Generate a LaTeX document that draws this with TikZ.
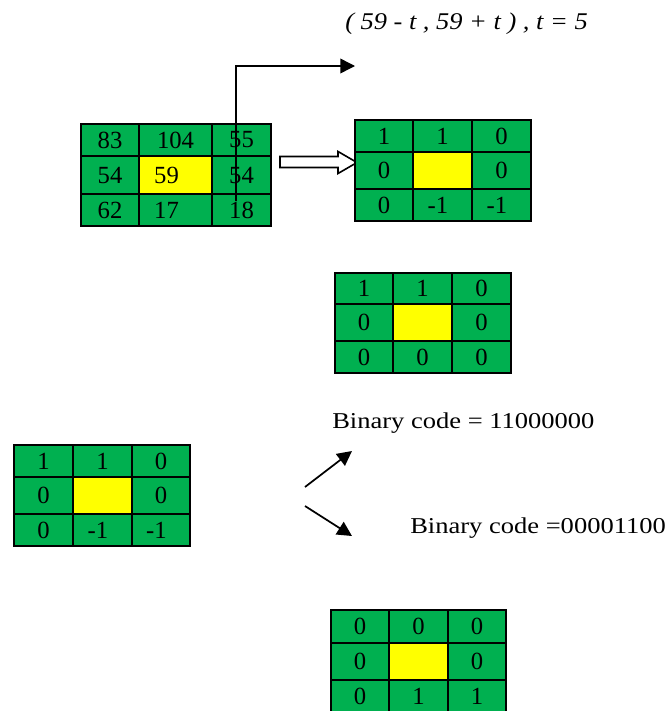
\documentclass[tikz,border=0pt]{standalone}
\usepackage{fontspec}
\setmainfont{Liberation Serif}
\usetikzlibrary{arrows.meta}
\definecolor{cgreen}{RGB}{0,176,80}
\definecolor{cyellow}{RGB}{255,255,0}
\newcommand\gcell[7][cgreen]{%
  \node[cellbox, fill=#1, minimum width={(#5-#3)*0.75pt}, minimum height={(#6-#4)*0.75pt}]
    (#2) at ({(#3+#5)/2},{(#4+#6)/2}) {#7};}
\tikzset{
  cellbox/.style={draw=black, line width=1.4pt, inner sep=0pt, anchor=center,
    font=\fontsize{18.5}{20}\selectfont},
  conn/.style={line width=1.3pt, -{Triangle[length=11pt,width=11pt]}},
  labeltext/.style={anchor=base west, inner sep=0pt},
}
\begin{document}
\begin{tikzpicture}[x=0.75pt,y=-0.75pt]
\useasboundingbox (0,0) rectangle (665,711);
\fill[white] (0,0) rectangle (665,711);

% title
\node[labeltext] (title) at (345,29)
  {\fontsize{18}{20}\selectfont\itshape\scalebox{1.1}[1]{( 59 - t , 59 + t ) , t = 5}};

% grid 1
\gcell{a11}{81}{124}{139}{156}{83}
\gcell{a12}{139}{124}{212}{156}{104}
\gcell{a13}{212}{124}{271}{156}{55}
\gcell{a21}{81}{156}{139}{194}{54}
\gcell[cyellow]{a22}{139}{156}{212}{194}{59\kern13.5pt}
\gcell{a23}{212}{156}{271}{194}{54}
\gcell{a31}{81}{194}{139}{226}{62}
\gcell{a32}{139}{194}{212}{226}{17\kern13.5pt}
\gcell{a33}{212}{194}{271}{226}{18}

% threshold arrow
\coordinate (vstart) at (236,201);
\coordinate (corner) at (236,66);
\coordinate (tend) at (355,66);
\draw[conn, line width=1.1pt] (vstart) -- (corner) -- (tend);

% hollow arrow
\coordinate (h1) at (280,156.5);
\draw[line width=1.2pt, fill=white, line join=miter]
  (h1) -- (338,156.5) -- (338,151.5) -- (357,162.5) -- (338,173.5) -- (338,167.5) -- (280,167.5) -- cycle;

% grid 2
\gcell{b11}{355}{120}{413}{152}{1}
\gcell{b12}{413}{120}{472}{152}{1}
\gcell{b13}{472}{120}{531}{152}{0}
\gcell{b21}{355}{152}{413}{189}{0}
\gcell[cyellow]{b22}{413}{152}{472}{189}{}
\gcell{b23}{472}{152}{531}{189}{0}
\gcell{b31}{355}{189}{413}{221}{0}
\gcell{b32}{413}{189}{472}{221}{-1\kern7pt}
\gcell{b33}{472}{189}{531}{221}{-1\kern7pt}

% grid 3
\gcell{c11}{335}{273}{393}{304}{1}
\gcell{c12}{393}{273}{452}{304}{1}
\gcell{c13}{452}{273}{511}{304}{0}
\gcell{c21}{335}{304}{393}{341}{0}
\gcell[cyellow]{c22}{393}{304}{452}{341}{}
\gcell{c23}{452}{304}{511}{341}{0}
\gcell{c31}{335}{341}{393}{373}{0}
\gcell{c32}{393}{341}{452}{373}{0}
\gcell{c33}{452}{341}{511}{373}{0}

% grid 4
\gcell{d11}{14}{445}{73}{477}{1}
\gcell{d12}{73}{445}{132}{477}{1}
\gcell{d13}{132}{445}{190}{477}{0}
\gcell{d21}{14}{477}{73}{514}{0}
\gcell[cyellow]{d22}{73}{477}{132}{514}{}
\gcell{d23}{132}{477}{190}{514}{0}
\gcell{d31}{14}{514}{73}{546}{0}
\gcell{d32}{73}{514}{132}{546}{-1\kern7pt}
\gcell{d33}{132}{514}{190}{546}{-1\kern7pt}

% binary code texts
\node[labeltext] (bin1) at (332,428)
  {\fontsize{17}{18}\selectfont\scalebox{1.17}[1]{Binary code = 11000000}};
\node[labeltext] (bin2) at (410,533)
  {\fontsize{17}{18}\selectfont\scalebox{1.17}[1]{Binary code =00001100}};

% branch arrows
\coordinate (u0) at (305,487);
\coordinate (u1) at (352,451);
\coordinate (l0) at (305,506);
\coordinate (l1) at (352,536);
\draw[conn] (u0) -- (u1);
\draw[conn] (l0) -- (l1);

% grid 5
\gcell{e11}{331}{610}{389}{643}{0}
\gcell{e12}{389}{610}{448}{643}{0}
\gcell{e13}{448}{610}{506}{643}{0}
\gcell{e21}{331}{643}{389}{680}{0}
\gcell[cyellow]{e22}{389}{643}{448}{680}{}
\gcell{e23}{448}{643}{506}{680}{0}
\gcell{e31}{331}{680}{389}{713}{0}
\gcell{e32}{389}{680}{448}{713}{1}
\gcell{e33}{448}{680}{506}{713}{1}
\end{tikzpicture}
\end{document}
